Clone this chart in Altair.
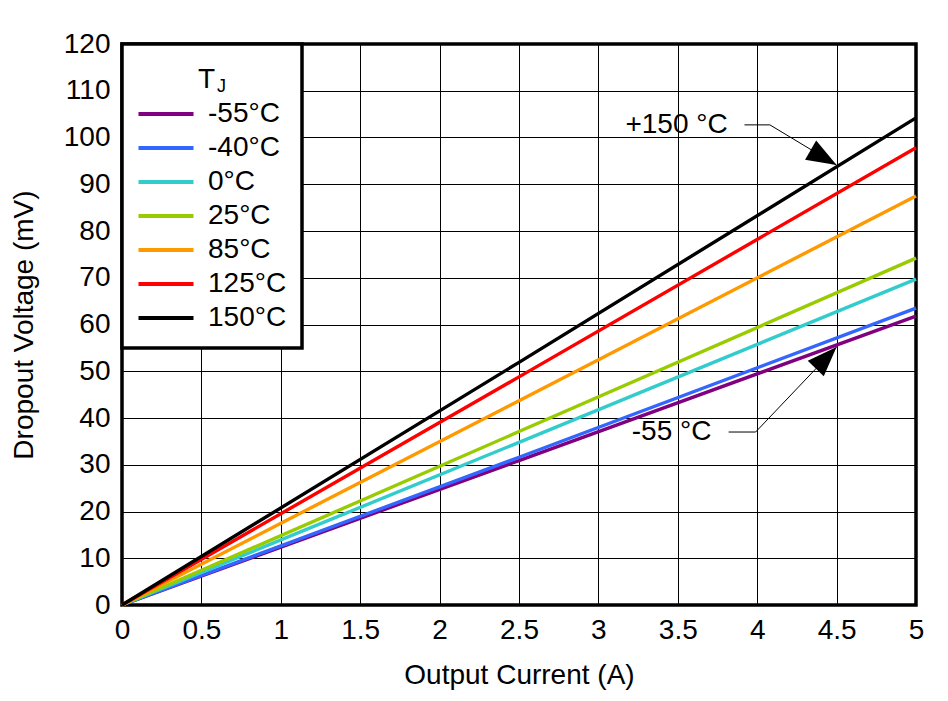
import altair as alt
import pandas as pd

# ---- data ----
currents = [0.0, 2.5, 5.0]
temps = ["-55°C", "-40°C", "0°C", "25°C", "85°C", "125°C", "150°C"]
colors = ["#800080", "#3366FF", "#33CCCC", "#99CC00", "#FF9900", "#FF0000", "#000000"]
v_m55 = [0.0, 30.9, 61.8]
v_m40 = [0.0, 31.6, 63.5]
v_0 = [0.0, 34.8, 69.7]
v_25 = [0.0, 37.1, 74.2]
v_85 = [0.0, 43.7, 87.5]
v_125 = [0.0, 48.8, 97.8]
v_150 = [0.0, 51.9, 104.2]
series = [v_m55, v_m40, v_0, v_25, v_85, v_125, v_150]

x_ticks = [0, 0.5, 1, 1.5, 2, 2.5, 3, 3.5, 4, 4.5, 5]
y_ticks = list(range(0, 130, 10))

# annotations
ann_labels = ["+150 °C", "-55 °C"]
ann_text_x = [3.17, 3.21]
ann_text_y = [102.6, 36.9]
leader_x = [3.92, 3.82]
leader_x_mid = [4.08, 3.99]
leader_y = [102.7, 37.0]
tip_x = [4.5, 4.5]
tip_y = [94.1, 55.2]
tip_angle = [30, 314]

FONT = "Liberation Sans"
FS = 28

rows = []
for t, vals in zip(temps, series):
    for c, v in zip(currents, vals):
        rows.append({"current": c, "voltage": v, "temp": t})
df = pd.DataFrame(rows)

ann = pd.DataFrame({
    "label": ann_labels, "tx": ann_text_x, "ty": ann_text_y,
    "lx": leader_x, "lx2": leader_x_mid, "ly": leader_y,
    "px": tip_x, "py": tip_y, "angle": tip_angle,
})

xs = alt.Scale(domain=[0, 5], nice=False, zero=False)
ys = alt.Scale(domain=[0, 120], nice=False)

one = pd.DataFrame({"k": [0]})

frame = alt.Chart(one).mark_rect(fill="white", stroke="black", strokeWidth=3.5).encode(
    x=alt.value(0), x2=alt.value(180), y=alt.value(0), y2=alt.value(304)
)

lines = alt.Chart(df).mark_line(strokeWidth=3.4).encode(
    x=alt.X("current:Q", scale=xs, title="Output Current (A)",
            axis=alt.Axis(values=x_ticks, format="~g")),
    y=alt.Y("voltage:Q", scale=ys, title="Dropout Voltage (mV)",
            axis=alt.Axis(values=y_ticks)),
    color=alt.Color(
        "temp:N",
        scale=alt.Scale(domain=temps, range=colors),
        sort=temps,
        legend=alt.Legend(
            orient="none", legendX=30, legendY=56, title=None,
            symbolType="M-2.5,0H2.5", symbolSize=484, symbolStrokeWidth=4,
            labelFontSize=FS, labelFont=FONT, labelOffset=28, rowPadding=6,
            padding=0, labelColor="black",
        ),
    ),
    order=alt.Order("temp:N"),
)

seg1 = alt.Chart(ann).mark_rule(color="black", strokeWidth=1).encode(
    x="lx:Q", x2="lx2:Q", y="ly:Q", y2="ly:Q"
)
seg2 = alt.Chart(ann).mark_rule(color="black", strokeWidth=1).encode(
    x="lx2:Q", x2="px:Q", y="ly:Q", y2="py:Q"
)
heads = alt.Chart(ann).mark_point(
    shape="M0,0L-1,-0.37L-1,0.37Z", filled=True, color="black", size=3600, opacity=1
).encode(x="px:Q", y="py:Q", angle=alt.Angle("angle:Q", scale=None))
texts = alt.Chart(ann).mark_text(
    align="left", baseline="middle", font=FONT, fontSize=FS, color="black"
).encode(x="tx:Q", y="ty:Q", text="label:N")

t_main = alt.Chart(one).mark_text(
    align="left", baseline="alphabetic", font=FONT, fontSize=FS, color="black"
).encode(x=alt.value(76), y=alt.value(44), text=alt.value("T"))
t_sub = alt.Chart(one).mark_text(
    align="left", baseline="alphabetic", font=FONT, fontSize=18, color="black"
).encode(x=alt.value(95), y=alt.value(48), text=alt.value("J"))

chart = alt.layer(frame, lines, seg1, seg2, heads, texts, t_main, t_sub).properties(
    width=794, height=561,
    background="white",
    autosize=alt.AutoSizeParams(type="none"),
    padding={"left": 114, "top": 36, "right": 20, "bottom": 90},
).configure_view(
    stroke="black", strokeWidth=3.5
).configure_axis(
    grid=True, gridColor="black", gridWidth=1, gridOpacity=1,
    domain=False, ticks=False,
    labelFont=FONT, labelFontSize=FS, labelColor="black",
    titleFont=FONT, titleFontSize=FS, titleFontWeight="normal", titleColor="black",
).configure_axisX(
    labelPadding=11, titlePadding=17, labelFlush=False
).configure_axisY(
    labelPadding=12, titlePadding=25, labelFlush=False
)

chart.save("out.html", embed_options={"renderer": "svg", "actions": False})
